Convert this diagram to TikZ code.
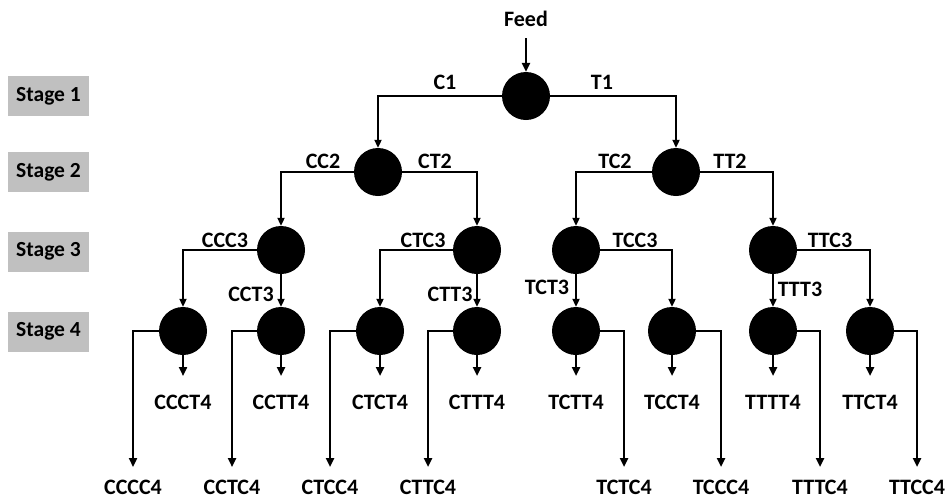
\documentclass[tikz,border=0pt]{standalone}
\usepackage{fontspec}
\setmainfont{Carlito}
\usetikzlibrary{arrows.meta}
\definecolor{stagegray}{HTML}{C0C0C0}
\begin{document}
\begin{tikzpicture}[x=1pt,y=-1pt,
  unit/.style={circle,fill=black,minimum size=48pt,inner sep=0pt},
  stagebox/.style={fill=stagegray,minimum width=81pt,minimum height=40pt,inner sep=0pt,font=\fontsize{21.5}{24}\selectfont\bfseries},
  lbl/.style={inner sep=0pt,font=\fontsize{22}{24}\selectfont\bfseries},
  br/.style={line width=2pt,-{Triangle[width=7pt,length=8pt]}},
  outp/.style={line width=2.8pt,-{Triangle[width=8pt,length=9pt]}}]
\useasboundingbox (0,0) rectangle (945,499);
% stage boxes
\node[stagebox] (st1) at (48.5,96) {Stage 1};
\node[stagebox] (st2) at (48.5,172) {Stage 2};
\node[stagebox] (st3) at (48.5,251.5) {Stage 3};
\node[stagebox] (st4) at (48.5,331.5) {Stage 4};
% feed
\node[lbl] (feed) at (526,19) {Feed};
\coordinate (fs) at (526,38);
% units
\node[unit] (s1) at (526,96) {};
\node[unit] (c) at (378,172) {};
\node[unit] (t) at (676,172) {};
\node[unit] (cc) at (281,250) {};
\node[unit] (ct) at (477,250) {};
\node[unit] (tc) at (576,250) {};
\node[unit] (tt) at (773,250) {};
\node[unit] (ccc) at (183,331) {};
\node[unit] (cct) at (281,331) {};
\node[unit] (ctc) at (380,331) {};
\node[unit] (ctt) at (477,331) {};
\node[unit] (tct) at (576,331) {};
\node[unit] (tcc) at (672,331) {};
\node[unit] (ttt) at (773,331) {};
\node[unit] (ttc) at (870,331) {};
% connectors
\draw[outp] (fs) -- (s1.north);
\draw[br] (s1.west) -| (c.north);
\draw[br] (s1.east) -| (t.north);
\draw[br] (c.west) -| (cc.north);
\draw[br] (c.east) -| (ct.north);
\draw[br] (t.west) -| (tc.north);
\draw[br] (t.east) -| (tt.north);
\draw[br] (cc.west) -| (ccc.north);
\draw[br] (cc.south) -- (cct.north);
\draw[br] (ct.west) -| (ctc.north);
\draw[br] (ct.south) -- (ctt.north);
\draw[br] (tc.south) -- (tct.north);
\draw[br] (tc.east) -| (tcc.north);
\draw[br] (tt.south) -- (ttt.north);
\draw[br] (tt.east) -| (ttc.north);
% branch labels
\node[lbl] (lC1) at (445,82) {C1};
\node[lbl] (lT1) at (602,82) {T1};
\node[lbl] (lCC2) at (323,161) {CC2};
\node[lbl] (lCT2) at (435,161) {CT2};
\node[lbl] (lTC2) at (615,161) {TC2};
\node[lbl] (lTT2) at (730,161) {TT2};
\node[lbl] (lCCC3) at (225,240) {CCC3};
\node[lbl] (lCCT3) at (251,294) {CCT3};
\node[lbl] (lCTC3) at (423,240) {CTC3};
\node[lbl] (lCTT3) at (450,294) {CTT3};
\node[lbl] (lTCC3) at (635,240) {TCC3};
\node[lbl] (lTCT3) at (547,287) {TCT3};
\node[lbl] (lTTC3) at (830,240) {TTC3};
\node[lbl] (lTTT3) at (800,289) {TTT3};
% stage 4 outputs (straight down)
\foreach \n/\x/\t in {ccc/183/CCCT4, cct/281/CCTT4, ctc/380/CTCT4, ctt/477/CTTT4,
                      tct/576/TCTT4, tcc/672/TCCT4, ttt/773/TTTT4, ttc/870/TTCT4}{
  \coordinate (e\n) at (\x,376);
  \draw[outp] (\n.south) -- (e\n);
  \node[lbl] (l\n t) at (\x,402) {\t};
}
% stage 4 outputs (side)
\foreach \n/\x/\a/\t in {ccc/133/west/CCCC4, cct/232/west/CCTC4, ctc/330/west/CTCC4, ctt/428/west/CTTC4,
                      tct/624/east/TCTC4, tcc/721/east/TCCC4, ttt/820/east/TTTC4, ttc/917/east/TTCC4}{
  \coordinate (f\n) at (\x,467);
  \draw[outp] (\n.\a) -| (f\n);
  \node[lbl] (l\n c) at (\x,487) {\t};
}
\end{tikzpicture}
\end{document}
